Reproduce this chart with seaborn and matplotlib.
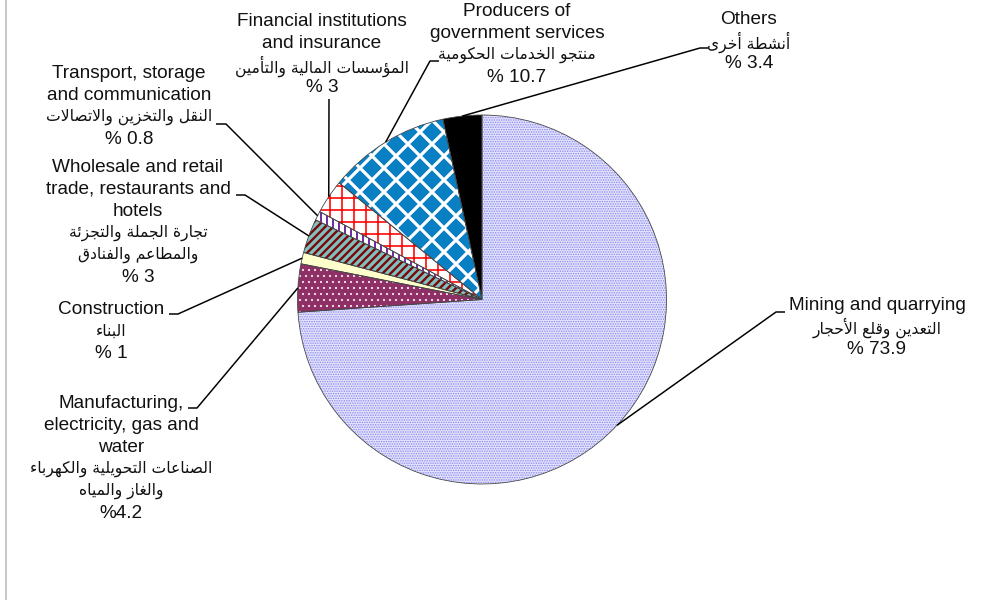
import numpy as np
import matplotlib
matplotlib.use("Agg")
import matplotlib.pyplot as plt
import seaborn as sns

# --- data -------------------------------------------------------------
sectors_en = [
    "Mining and quarrying",
    "Manufacturing,\nelectricity, gas and\nwater",
    "Construction",
    "Wholesale and retail\ntrade, restaurants and\nhotels",
    "Transport, storage\nand communication",
    "Financial institutions\nand insurance",
    "Producers of\ngovernment services",
    "Others",
]
sectors_ar = [
    ["التعدين وقلع الأحجار"],
    ["الصناعات التحويلية والكهرباء", "والغاز والمياه"],
    ["البناء"],
    ["تجارة الجملة والتجزئة", "والمطاعم والفنادق"],
    ["النقل والتخزين والاتصالات"],
    ["المؤسسات المالية والتأمين"],
    ["منتجو الخدمات الحكومية"],
    ["أنشطة أخرى"],
]
shares = [73.9, 4.2, 1, 3, 0.8, 3, 10.7, 3.4]
share_labels = ["% 73.9", "%4.2", "% 1", "% 3", "% 0.8", "% 3", "% 10.7", "% 3.4"]

# --- minimal arabic shaping (matplotlib has no complex text layout) ------
FORMS = {
    'ء': (0xFE80, 'U'), 'آ': (0xFE81, 'R'), 'أ': (0xFE83, 'R'), 'ؤ': (0xFE85, 'R'),
    'إ': (0xFE87, 'R'), 'ئ': (0xFE89, 'D'), 'ا': (0xFE8D, 'R'), 'ب': (0xFE8F, 'D'),
    'ة': (0xFE93, 'R'), 'ت': (0xFE95, 'D'), 'ث': (0xFE99, 'D'), 'ج': (0xFE9D, 'D'),
    'ح': (0xFEA1, 'D'), 'خ': (0xFEA5, 'D'), 'د': (0xFEA9, 'R'), 'ذ': (0xFEAB, 'R'),
    'ر': (0xFEAD, 'R'), 'ز': (0xFEAF, 'R'), 'س': (0xFEB1, 'D'), 'ش': (0xFEB5, 'D'),
    'ص': (0xFEB9, 'D'), 'ض': (0xFEBD, 'D'), 'ط': (0xFEC1, 'D'), 'ظ': (0xFEC5, 'D'),
    'ع': (0xFEC9, 'D'), 'غ': (0xFECD, 'D'), 'ف': (0xFED1, 'D'), 'ق': (0xFED5, 'D'),
    'ك': (0xFED9, 'D'), 'ل': (0xFEDD, 'D'), 'م': (0xFEE1, 'D'), 'ن': (0xFEE5, 'D'),
    'ه': (0xFEE9, 'D'), 'و': (0xFEED, 'R'), 'ى': (0xFEEF, 'R'), 'ي': (0xFEF1, 'D'),
}
LAM_ALEF = {'آ': 0xFEF5, 'أ': 0xFEF7, 'إ': 0xFEF9, 'ا': 0xFEFB}


def shape_arabic(text):
    items = []
    i = 0
    while i < len(text):
        c = text[i]
        if c == 'ل' and i + 1 < len(text) and text[i + 1] in LAM_ALEF:
            items.append((LAM_ALEF[text[i + 1]], 'R'))
            i += 2
        elif c in FORMS:
            items.append(FORMS[c])
            i += 1
        else:
            items.append((c, 'U'))
            i += 1
    out = []
    for k, (base, t) in enumerate(items):
        if isinstance(base, str):
            out.append(base)
            continue
        prev_t = items[k - 1][1] if k > 0 else 'U'
        next_t = items[k + 1][1] if k + 1 < len(items) else 'U'
        join_prev = t in ('D', 'R') and prev_t == 'D'
        join_next = t == 'D' and next_t in ('D', 'R')
        if t == 'U':
            off = 0
        elif join_prev and join_next:
            off = 3
        elif join_next:
            off = 2
        elif join_prev:
            off = 1
        else:
            off = 0
        out.append(chr(base + off))
    return ''.join(reversed(out))


# --- styles -------------------------------------------------------------
faces = ['#E4E4FC', '#8E2F66', '#FFFFCC', '#80C0C0', '#FFFFFF', '#FFFFFF', '#0A80C4', '#000000']
hatch_colors = ['#8888F0', '#F0E0EA', '#FFFFCC', '#7A0A0A', '#7030A0', '#FF0000', '#FFFFFF', '#000000']
hatches = ['.....', '..', None, '///', '||', '+', 'x', None]
hatch_lw = [1.0, 1.0, 1.0, 2.4, 2.0, 1.6, 3.2, 1.0]

# 72 dpi so that one point is one pixel and the hatch tile is 72 px wide
DPI = 72
W, H = 1002, 600
cx, cy, r = 482, H - 299.5, 184.5

# label layout in pixel coords (top-down): text centre x, first line y, leader elbow, leader tail
label_x = [877, 121, 111, 138, 129, 322, 517, 749]
label_y = [306, 403, 309, 167, 73, 22, 11, 20]
elbows = [(776, 312), (197, 408), (178, 314), (245, 195), (226, 124), (329, 99), (430, 61), (700, 48)]
tails = [(785, 312), (188, 408), (169, 314), (236, 195), (216, 124), (329, 99), (439, 61), (708, 48)]

sns.set_theme(style="white")
plt.rcParams['font.family'] = ['Liberation Sans', 'DejaVu Sans']

fig = plt.figure(figsize=(W / DPI, H / DPI), dpi=DPI)
ax = fig.add_axes([0, 0, 1, 1])

wedges, _ = ax.pie(shares, startangle=90, counterclock=False,
                   center=(cx, cy), radius=r)
for w, fc, hc, h, lw in zip(wedges, faces, hatch_colors, hatches, hatch_lw):
    w.set_facecolor(fc)
    w.set_edgecolor(hc)
    w.set_linewidth(0)
    if h:
        w.set_hatch(h)
        if hasattr(w, 'set_hatch_linewidth'):
            w.set_hatch_linewidth(lw)
outline, _ = ax.pie(shares, startangle=90, counterclock=False, center=(cx, cy), radius=r,
                    wedgeprops=dict(facecolor='none', edgecolor='#444444', linewidth=0.8))

ax.set_xlim(0, W)
ax.set_ylim(0, H)
ax.set_aspect('auto')
ax.axis('off')

line_step = 22
for k, w in enumerate(wedges):
    mid = np.deg2rad((w.theta1 + w.theta2) / 2)
    px, py = cx + r * np.cos(mid), cy + r * np.sin(mid)
    (ex, ey), (tx, ty) = elbows[k], tails[k]
    ax.plot([px, ex, tx], [py, H - ey, H - ty], color='black', lw=1.5, solid_capstyle='butt')

    lines = [(s, 'en') for s in sectors_en[k].split('\n')]
    lines += [(s, 'ar') for s in sectors_ar[k]]
    lines += [(share_labels[k], 'en')]
    for j, (s, kind) in enumerate(lines):
        y = H - (label_y[k] + j * line_step)
        if kind == 'ar':
            ax.text(label_x[k], y, shape_arabic(s), ha='center', va='center',
                    fontsize=15.5, family=['DejaVu Sans'], color='#111111')
        else:
            ax.text(label_x[k], y, s, ha='center', va='center',
                    fontsize=19, color='#111111')

fig.add_artist(plt.Line2D([5.5 / W, 5.5 / W], [0, 1], color='#C8C8C8', lw=2,
                          transform=fig.transFigure))

fig.savefig('out.png', dpi=DPI, facecolor='white')
